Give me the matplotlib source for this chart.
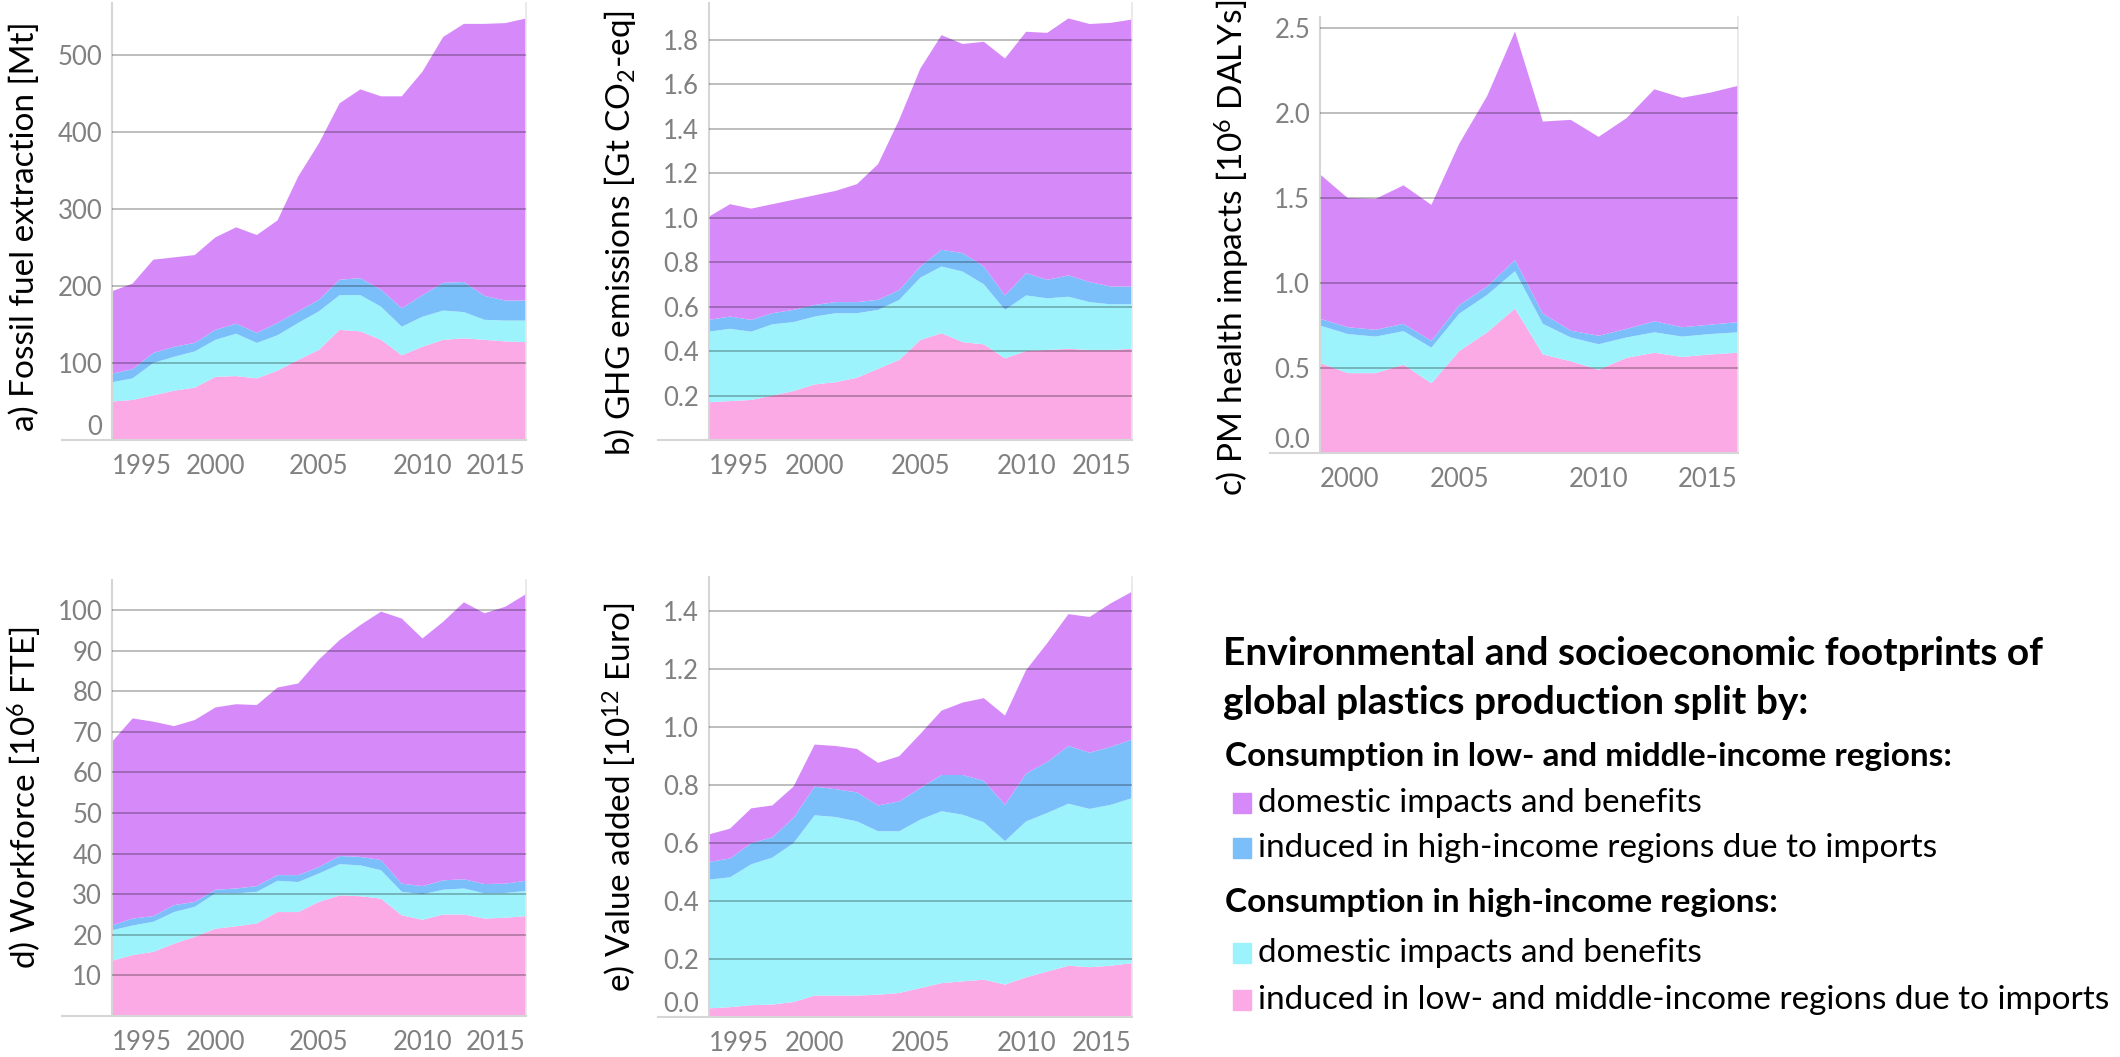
import matplotlib.pyplot as plt
from matplotlib.patches import Rectangle

plt.rcParams['font.family'] = ['Lato', 'DejaVu Sans']
plt.rcParams['mathtext.fontset'] = 'custom'
plt.rcParams['mathtext.rm'] = 'Lato'
plt.rcParams['mathtext.it'] = 'Lato:italic'
plt.rcParams['mathtext.bf'] = 'Lato:bold'

years = list(range(1995, 2016))
years_c = list(range(2000, 2016))

# layer order, bottom to top:
# hi_imp  = high-income consumption, induced in low/middle-income regions (pink)
# hi_dom  = high-income consumption, domestic (cyan)
# lmi_imp = low/middle-income consumption, induced in high-income regions (blue)
# lmi_dom = low/middle-income consumption, domestic (purple)

# a) fossil fuel extraction [Mt]
a_hi_imp = [50, 52, 58, 64, 68, 82, 83, 80, 90, 104, 117, 143, 141, 130, 110, 121, 130, 132, 130, 128, 127]
a_hi_dom = [25, 28, 42, 44, 47, 48, 55, 46, 46, 48, 50, 45, 47, 43, 37, 39, 38, 34, 26, 27, 28]
a_lmi_imp = [11, 12, 13, 13, 11, 13, 13, 13, 16, 15, 15, 20, 22, 22, 24, 28, 36, 39, 31, 26, 26]
a_lmi_dom = [107, 111, 121, 116, 114, 120, 125, 127, 133, 175, 203, 229, 245, 251, 275, 290, 319, 335, 353, 360, 366]

# b) GHG emissions [Gt CO2-eq]
b_hi_imp = [0.17, 0.175, 0.18, 0.20, 0.22, 0.25, 0.26, 0.28, 0.32, 0.36, 0.45, 0.48, 0.44, 0.43, 0.367, 0.40, 0.405, 0.41, 0.405, 0.405, 0.41]
b_hi_dom = [0.317, 0.325, 0.307, 0.32, 0.31, 0.305, 0.31, 0.29, 0.265, 0.27, 0.28, 0.30, 0.317, 0.27, 0.218, 0.25, 0.232, 0.234, 0.215, 0.205, 0.20]
b_lmi_imp = [0.053, 0.055, 0.053, 0.05, 0.055, 0.052, 0.05, 0.05, 0.045, 0.044, 0.05, 0.075, 0.083, 0.08, 0.065, 0.10, 0.083, 0.096, 0.09, 0.08, 0.08]
b_lmi_dom = [0.464, 0.505, 0.50, 0.49, 0.495, 0.493, 0.50, 0.53, 0.61, 0.766, 0.89, 0.965, 0.94, 1.01, 1.065, 1.085, 1.11, 1.155, 1.16, 1.185, 1.20]

# c) PM health impacts [10^6 DALYs], 2000-2015
c_hi_imp = [0.53, 0.47, 0.47, 0.52, 0.41, 0.60, 0.71, 0.85, 0.58, 0.54, 0.49, 0.56, 0.59, 0.565, 0.58, 0.59]
c_hi_dom = [0.22, 0.23, 0.215, 0.197, 0.21, 0.22, 0.22, 0.22, 0.18, 0.14, 0.15, 0.12, 0.12, 0.12, 0.12, 0.12]
c_lmi_imp = [0.04, 0.04, 0.04, 0.043, 0.04, 0.05, 0.05, 0.065, 0.06, 0.04, 0.05, 0.05, 0.065, 0.055, 0.055, 0.06]
c_lmi_dom = [0.85, 0.76, 0.77, 0.815, 0.80, 0.95, 1.12, 1.345, 1.13, 1.24, 1.17, 1.24, 1.365, 1.35, 1.365, 1.39]

# d) workforce [10^6 FTE]
d_hi_imp = [13.6, 15, 15.8, 17.8, 19.5, 21.5, 22.1, 22.8, 25.6, 25.6, 28.1, 29.7, 29.5, 28.9, 24.8, 23.7, 25, 25, 24, 24.2, 24.6]
d_hi_dom = [7.5, 7.3, 7.4, 7.8, 7.4, 8.7, 8.1, 7.8, 7.7, 7.4, 7.0, 7.7, 7.6, 7.0, 5.8, 6.3, 6.1, 6.4, 6.2, 6.1, 6.2]
d_lmi_imp = [1.2, 1.7, 1.4, 1.7, 1.2, 0.9, 1.2, 1.4, 1.4, 1.7, 1.6, 2.0, 2.1, 2.5, 2.0, 2.0, 2.3, 2.3, 2.3, 2.3, 2.5]
d_lmi_dom = [45.2, 49.3, 47.9, 44.1, 44.8, 44.9, 45.4, 44.6, 46.2, 47.2, 51.1, 53.2, 57.1, 61.2, 65.3, 61.0, 63.7, 68.2, 66.7, 68.2, 70.6]

# e) value added [10^12 Euro]
e_hi_imp = [0.03, 0.034, 0.041, 0.043, 0.052, 0.074, 0.074, 0.074, 0.077, 0.083, 0.10, 0.117, 0.123, 0.129, 0.112, 0.137, 0.157, 0.177, 0.172, 0.177, 0.186]
e_hi_dom = [0.444, 0.448, 0.486, 0.507, 0.548, 0.622, 0.616, 0.601, 0.564, 0.558, 0.581, 0.593, 0.575, 0.543, 0.495, 0.538, 0.547, 0.559, 0.546, 0.555, 0.569]
e_lmi_imp = [0.061, 0.065, 0.073, 0.07, 0.087, 0.099, 0.096, 0.10, 0.089, 0.103, 0.109, 0.125, 0.137, 0.143, 0.125, 0.165, 0.176, 0.199, 0.194, 0.20, 0.202]
e_lmi_dom = [0.095, 0.103, 0.12, 0.11, 0.108, 0.145, 0.149, 0.15, 0.147, 0.156, 0.187, 0.222, 0.25, 0.285, 0.308, 0.357, 0.41, 0.455, 0.468, 0.495, 0.51]

colors = ['#FBAAE6', '#9CF3FC', '#7BBFFA', '#D68AFA']

legend_title = 'Environmental and socioeconomic footprints of\nglobal plastics production split by:'
legend_groups = ['Consumption in low- and middle-income regions:',
                 'Consumption in high-income regions:']
legend_items = ['domestic impacts and benefits',
                'induced in high-income regions due to imports',
                'domestic impacts and benefits',
                'induced in low- and middle-income regions due to imports']

TICK_COLOR = '#808080'


def draw_panel(ax, x, layers, ylim, yticks, ylabels, xticks, ylabel, label_y=0.5):
    ax.stackplot(x, *layers, colors=colors, linewidth=0, zorder=1)
    ax.set_xlim(x[0], x[-1])
    ax.set_ylim(*ylim)
    ax.set_yticks(yticks)
    ax.set_yticklabels(ylabels)
    ax.set_xticks(xticks)
    ax.set_xticklabels([str(t) for t in xticks])
    ax.tick_params(length=0, labelsize=18.5, labelcolor=TICK_COLOR)
    ax.tick_params(axis='y', pad=7)
    ax.tick_params(axis='x', pad=10)
    xl = ax.get_xticklabels()
    xl[0].set_ha('left')
    xl[-1].set_ha('right')
    for t, lab in zip(yticks, ax.get_yticklabels()):
        if t == 0:
            lab.set_va('bottom')
    # gridlines drawn over the areas
    for t in yticks:
        if t > 0:
            ax.axhline(t, color='black', alpha=0.28, lw=1.3, zorder=3)
    for s in ['top', 'bottom']:
        ax.spines[s].set_visible(False)
    ax.spines['left'].set_color('#d6d6d6')
    ax.spines['left'].set_linewidth(1.5)
    ax.spines['right'].set_color('#e6e6e6')
    ax.spines['right'].set_linewidth(1.2)
    ax.plot([-0.12, 1], [0, 0], transform=ax.transAxes, color='#d6d6d6',
            lw=1.5, clip_on=False, zorder=4)
    ax.set_ylabel(ylabel, fontsize=24, color='black', va='center')
    ax.yaxis.set_label_coords(-0.21, label_y)


fig = plt.figure(figsize=(21.2, 10.57), dpi=100)

ax_a = fig.add_axes([0.0528, 0.5837, 0.1953, 0.4134])
ax_b = fig.add_axes([0.3344, 0.5837, 0.1995, 0.4134])
ax_c = fig.add_axes([0.6226, 0.5714, 0.1972, 0.4125])
ax_d = fig.add_axes([0.0528, 0.0388, 0.1953, 0.4125])
ax_e = fig.add_axes([0.3344, 0.0378, 0.1995, 0.4163])

xt = [1995, 2000, 2005, 2010, 2015]

draw_panel(ax_a, years, [a_hi_imp, a_hi_dom, a_lmi_imp, a_lmi_dom], (0, 567),
           [0, 100, 200, 300, 400, 500], ['0', '100', '200', '300', '400', '500'],
           xt, 'a) Fossil fuel extraction [Mt]', label_y=0.49)
draw_panel(ax_b, years, [b_hi_imp, b_hi_dom, b_lmi_imp, b_lmi_dom], (0, 1.964),
           [0.2, 0.4, 0.6, 0.8, 1.0, 1.2, 1.4, 1.6, 1.8],
           ['0.2', '0.4', '0.6', '0.8', '1.0', '1.2', '1.4', '1.6', '1.8'],
           xt, r'b) GHG emissions [Gt CO$_2$-eq]', label_y=0.475)
draw_panel(ax_c, years_c, [c_hi_imp, c_hi_dom, c_lmi_imp, c_lmi_dom], (0, 2.565),
           [0, 0.5, 1.0, 1.5, 2.0, 2.5], ['0.0', '0.5', '1.0', '1.5', '2.0', '2.5'],
           [2000, 2005, 2010, 2015], r'c) PM health impacts [10$^6$ DALYs]', label_y=0.47)
draw_panel(ax_d, years, [d_hi_imp, d_hi_dom, d_lmi_imp, d_lmi_dom], (0, 107.4),
           [10, 20, 30, 40, 50, 60, 70, 80, 90, 100],
           ['10', '20', '30', '40', '50', '60', '70', '80', '90', '100'],
           xt, r'd) Workforce [10$^6$ FTE]')
draw_panel(ax_e, years, [e_hi_imp, e_hi_dom, e_lmi_imp, e_lmi_dom], (0, 1.518),
           [0, 0.2, 0.4, 0.6, 0.8, 1.0, 1.2, 1.4],
           ['0.0', '0.2', '0.4', '0.6', '0.8', '1.0', '1.2', '1.4'],
           xt, r'e) Value added [10$^{12}$ Euro]')

# legend block
title_lines = legend_title.split('\n')
fig.text(0.577, 0.382, title_lines[0], fontsize=28, fontweight='bold', va='center')
fig.text(0.577, 0.335, title_lines[1], fontsize=28, fontweight='bold', va='center')

rows = [(legend_groups[0], None), (legend_items[0], colors[3]), (legend_items[1], colors[2]),
        (legend_groups[1], None), (legend_items[2], colors[1]), (legend_items[3], colors[0])]
ys = [0.284, 0.240, 0.198, 0.146, 0.098, 0.054]
for (label, col), y in zip(rows, ys):
    if col is None:
        fig.text(0.578, y, label, fontsize=24, fontweight='bold', va='center')
    else:
        fig.add_artist(Rectangle((0.5815, y - 0.0095), 0.0085, 0.019, color=col,
                                 transform=fig.transFigure))
        fig.text(0.5935, y, label, fontsize=24, va='center')

fig.savefig('out.png', dpi=100)
